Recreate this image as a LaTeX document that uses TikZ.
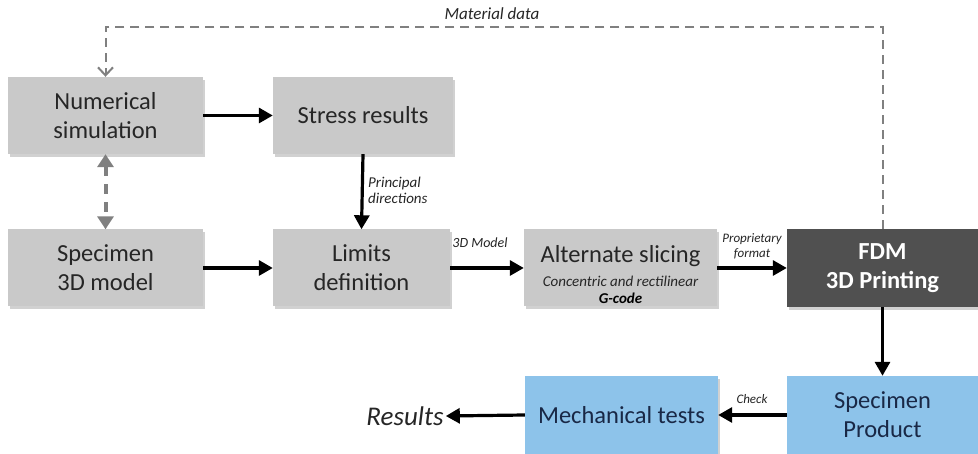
\documentclass[tikz,border=0pt]{standalone}
\usepackage{fontspec}
\setmainfont{Carlito}
\usetikzlibrary{arrows.meta,shadows}
\definecolor{boxgray}{RGB}{201,201,201}
\definecolor{boxdark}{RGB}{80,80,80}
\definecolor{boxblue}{RGB}{141,195,234}
\definecolor{txtdark}{RGB}{38,38,38}
\definecolor{txtblue}{RGB}{25,40,70}
\definecolor{dashgray}{RGB}{128,128,128}
\tikzset{
  basebox/.style={rectangle, inner sep=0pt, align=center, text=txtdark,
    font=\fontsize{24.5}{29}\selectfont,
    drop shadow={shadow xshift=2pt, shadow yshift=-3pt, fill=black!40, opacity=0.45}},
  graybox/.style={basebox, fill=boxgray},
  darkbox/.style={basebox, fill=boxdark, text=white, font=\fontsize{24.5}{29}\selectfont\bfseries},
  bluebox/.style={basebox, fill=boxblue, text=txtblue},
  flow/.style={line width=3.2pt, -{Triangle[length=14pt,width=15pt]}},
  lbl/.style={font=\fontsize{14}{16}\selectfont\itshape, text=txtdark, inner sep=0pt},
  matline/.style={dashgray, line width=2pt, dash pattern=on 9pt off 6pt, -{Straight Barb[length=8pt,width=15pt,line width=2pt]}},
  bidir/.style={dashgray, line width=4pt, dash pattern=on 10pt off 8pt, {Triangle[length=13pt,width=16pt]}-{Triangle[length=13pt,width=16pt]}}
}
\begin{document}
\begin{tikzpicture}[x=1pt,y=-1pt]
\useasboundingbox (0,0) rectangle (978,454);
\fill[white] (0,0) rectangle (978,454);
\node[graybox, minimum width=195pt, minimum height=77pt] (num) at (105.5,115.5) {Numerical\\simulation};
\node[graybox, minimum width=180pt, minimum height=77pt] (stress) at (363,115.5) {Stress results};
\node[graybox, minimum width=195pt, minimum height=77pt] (spec) at (105.5,268) {Specimen\\3D model};
\node[graybox, minimum width=177pt, minimum height=77pt] (lim) at (361.5,268) {Limits\\definition};
\node[graybox, minimum width=193pt, minimum height=77pt] (alt) at (620.5,268) {};
\node[txtdark, font=\fontsize{24.5}{29}\selectfont, inner sep=0pt] (altt) at (620.5,256) {Alternate slicing};
\node[lbl, font=\fontsize{15}{17}\selectfont\itshape] (altc) at (620.5,281) {Concentric and rectilinear};
\node[lbl, font=\fontsize{15}{17}\selectfont\bfseries\itshape, text=black] (altg) at (620.5,298) {G-code};
\node[darkbox, minimum width=191pt, minimum height=78pt] (fdm) at (882.5,268) {FDM\\3D Printing};
\node[bluebox, minimum width=191pt, minimum height=78pt] (prod) at (882.5,415) {Specimen\\Product};
\node[bluebox, minimum width=193pt, minimum height=78pt] (mech) at (621.5,415) {Mechanical tests};
\node[font=\fontsize{27}{30}\selectfont\itshape, text=txtdark, inner sep=2pt] (res) at (405,416) {Results};

\draw[flow] (num.east) -- (stress.west);
\draw[flow] (stress.south) -- (lim.north);
\node[lbl, anchor=west, align=left, font=\fontsize{15}{16}\selectfont\itshape] (pd) at (368,190) {Principal\\directions};
\draw[flow] (spec.east) -- (lim.west);
\draw[flow] (lim.east) -- (alt.west);
\node[lbl] (m3d) at (480,243) {3D Model};
\draw[flow] (alt.east) -- (fdm.west);
\node[lbl, align=center, font=\fontsize{13}{15}\selectfont\itshape] (pf) at (752,246) {Proprietary\\format};
\draw[flow] (fdm.south) -- (prod.north);
\draw[flow] (prod.west) -- (mech.east);
\node[lbl, font=\fontsize{13}{15}\selectfont\itshape] (chk) at (752,399) {Check};
\draw[flow] (mech.west) -- (res.east);

\coordinate (mtr) at (882.5,27);
\coordinate (mtl) at (105.5,27);
\draw[matline] (fdm.north) -- (mtr) -- (mtl) -- (num.north);
\node[lbl, font=\fontsize{17}{19}\selectfont\itshape] (md) at (492,14) {Material data};
\draw[bidir] (num.south) -- (spec.north);
\end{tikzpicture}
\end{document}
